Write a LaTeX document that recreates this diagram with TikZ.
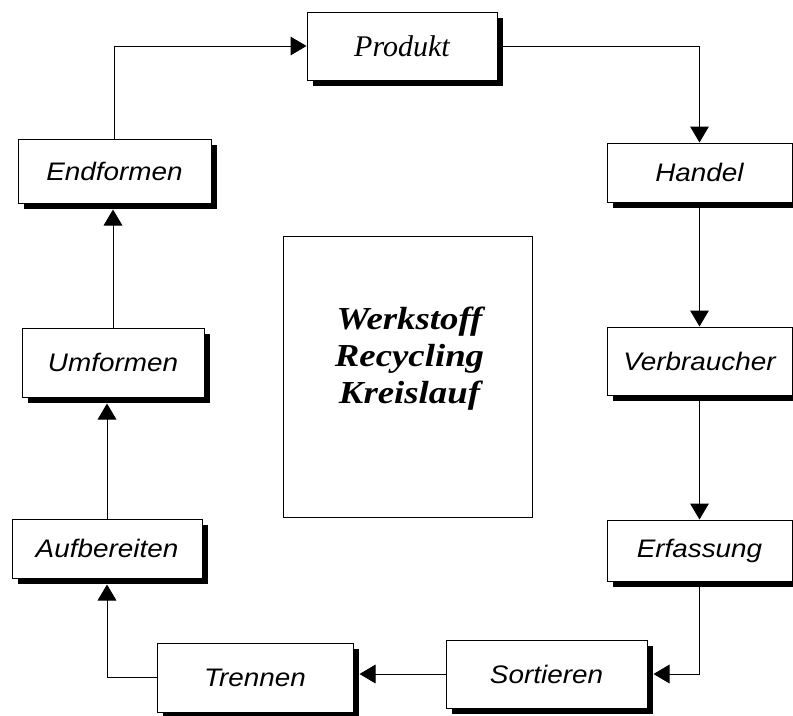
\documentclass[tikz,border=0pt]{standalone}
\usepackage{fontspec}
\setmainfont{Liberation Serif}
\newfontfamily\labelfont[FakeStretch=1.1]{Liberation Sans}
\newfontfamily\titlefont[FakeStretch=1.15]{Liberation Serif}
\usepackage{tikz}
\usetikzlibrary{arrows.meta, positioning, calc, shadows}

\begin{document}
\begin{tikzpicture}[x=0.75pt, y=-0.75pt]
    % Styles
    \tikzstyle{stage} = [rectangle, draw, fill=white, line width=0.75pt, font=\labelfont\itshape\fontsize{19}{22}\selectfont, drop shadow={fill=black, opacity=1, shadow xshift=4.5pt, shadow yshift=-4.5pt}]
    \tikzstyle{frame} = [rectangle, draw, line width=0.75pt]
    \tikzstyle{title} = [align=center, font=\titlefont\bfseries\itshape\fontsize{24}{28}\selectfont]
    \tikzstyle{flow} = [draw, line width=0.75pt, -{Triangle[length=12pt, width=14pt]}]

    \useasboundingbox (0,0) rectangle (793,715);

    % Nodes
    \node [stage, minimum width=142.5pt, minimum height=51pt, font=\rmfamily\itshape\fontsize{22.5}{26}\selectfont] (prod) at (402,46) {Produkt};
    \node [stage, minimum width=138.75pt, minimum height=44.25pt] (handel) at (699.5,172.5) {Handel};
    \node [stage, minimum width=138.75pt, minimum height=51pt] (verbr) at (699.5,361) {Verbraucher};
    \node [stage, minimum width=138.75pt, minimum height=45.75pt] (erf) at (699.5,550.5) {Erfassung};
    \node [stage, minimum width=150.75pt, minimum height=51pt] (sort) at (546.5,674) {Sortieren};
    \node [stage, minimum width=147pt, minimum height=51.75pt] (trenn) at (255,677.5) {Trennen};
    \node [stage, minimum width=142.5pt, minimum height=44.25pt] (aufb) at (107,548.5) {Aufbereiten};
    \node [stage, minimum width=136.5pt, minimum height=51.75pt] (umf) at (113,362.5) {Umformen};
    \node [stage, minimum width=144.75pt, minimum height=48pt] (endf) at (114.5,171) {Endformen};

    % Centre
    \node [frame, minimum width=186.75pt, minimum height=210.75pt] (core) at (407.5,376.5) {};
    \node [title] (kreis) at ($(core.center)+(2,-18)$) {Werkstoff\\Recycling\\Kreislauf};

    % Paths
    \path [flow] (endf.north) |- (prod.west);
    \path [flow] (prod.east) -| (handel.north);
    \path [flow] (handel.south) -- (verbr.north);
    \path [flow] (verbr.south) -- (erf.north);
    \path [flow] (erf.south) |- ($(sort.east)+(6,0)$);
    \path [flow] (sort.west) -- ($(sort.west -| trenn.east)+(6,0)$);
    \path [flow] (trenn.west) -| ($(aufb.south)+(0,6)$);
    \path [flow] (aufb.north) -- ($(aufb.north |- umf.south)+(0,6)$);
    \path [flow] (umf.north) -- ($(umf.north |- endf.south)+(0,6)$);
\end{tikzpicture}
\end{document}
